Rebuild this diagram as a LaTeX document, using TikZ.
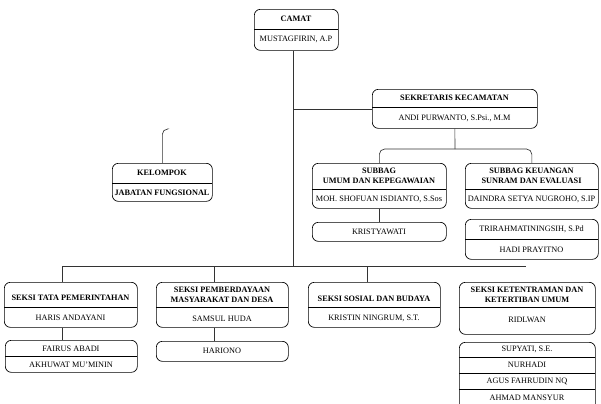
\documentclass[tikz,border=0pt]{standalone}
\usepackage{fontspec}
\setmainfont{Liberation Serif}
\usetikzlibrary{calc}

\tikzset{
  orgbox/.style={draw, rounded corners=4.5pt, line width=0.5pt, inner sep=0pt, anchor=north west},
  hd/.style={font=\fontsize{6.2}{7.5}\selectfont\bfseries, align=center, inner sep=0pt},
  nm/.style={font=\fontsize{6.2}{7.5}\selectfont, inner sep=0pt},
  link/.style={line width=0.5pt, black!80}
}

\begin{document}
\begin{tikzpicture}[x=0.75pt,y=0.75pt,yscale=-1,xscale=1]
\useasboundingbox (0,0) rectangle (601,404);
\clip (0,0) rectangle (601,404);

%Rounded Rect boxes
\node [orgbox, minimum width=63pt, minimum height=30.75pt] (camat) at (254,9) {};
\node [orgbox, minimum width=123.75pt, minimum height=29.25pt] (sekcam) at (372,89) {};
\node [orgbox, minimum width=75pt, minimum height=28.5pt] (kelompok) at (112,163) {};
\node [orgbox, minimum width=100.5pt, minimum height=33.75pt] (umum) at (312,163) {};
\node [orgbox, minimum width=100.5pt, minimum height=14.25pt] (kristy) at (312,222) {};
\node [orgbox, minimum width=99.75pt, minimum height=33.75pt] (keu) at (465,163) {};
\node [orgbox, minimum width=99.75pt, minimum height=30pt] (trihadi) at (465,219) {};
\node [orgbox, minimum width=99.75pt, minimum height=33.75pt] (tata) at (4,282) {};
\node [orgbox, minimum width=99pt, minimum height=24pt] (fairus) at (5,340) {};
\node [orgbox, minimum width=99pt, minimum height=33.75pt] (pemb) at (156,282) {};
\node [orgbox, minimum width=99pt, minimum height=15pt] (hariono) at (156,341) {};
\node [orgbox, minimum width=99pt, minimum height=33.75pt] (sosial) at (308,282) {};
\node [orgbox, minimum width=102pt, minimum height=39pt] (ketent) at (459,282) {};
\node [orgbox, minimum width=102pt, minimum height=60pt] (supyati) at (459,342) {};

%Dividers
\draw [line width=0.5pt] (254,29) -- (338,29) ;
\draw [line width=0.5pt] (372,107) -- (537,107) ;
\draw [line width=0.5pt] (112,183) -- (212,183) ;
\draw [line width=0.5pt] (312,189) -- (446,189) ;
\draw [line width=0.5pt] (465,189) -- (598,189) ;
\draw [line width=0.5pt] (465,239) -- (598,239) ;
\draw [line width=0.5pt] (4,307) -- (137,307) ;
\draw [line width=0.5pt] (5,356) -- (137,356) ;
\draw [line width=0.5pt] (156,307) -- (288,307) ;
\draw [line width=0.5pt] (308,307) -- (440,307) ;
\draw [line width=0.5pt] (459,307) -- (595,307) ;
\draw [line width=0.5pt] (459,357) -- (595,357) ;
\draw [line width=0.5pt] (459,373) -- (595,373) ;
\draw [line width=0.5pt] (459,389) -- (595,389) ;

%Straight Lines
\coordinate (bar) at (293,266);
\coordinate (barL) at (62,266);
\coordinate (barB) at (214,266);
\coordinate (barC) at (367,266);
\coordinate (barR) at (526,266);
\coordinate (sub) at (455,149);
\coordinate (kelhook) at (167,129);
\draw [link] (bar |- camat.south) -- (bar) ;
\draw [link] (bar |- sekcam.west) -- (sekcam.west) ;
\draw [link] (sekcam.south) -- (sub) ;
\draw [link, rounded corners=4pt] (umum.north) |- (sub) -| (keu.north) ;
\draw [link] (umum.south) -- (kristy.north) ;
\draw [link, rounded corners=4pt] (kelompok.north) -- (kelompok.north |- kelhook) -- (kelhook) ;
\draw [link] (barL) -- (barR) ;
\draw [link] (barL) -- (barL |- tata.north) ;
\draw [link] (barB) -- (barB |- pemb.north) ;
\draw [link] (barC) -- (barC |- sosial.north) ;
\draw [link] (barL |- tata.south) -- (barL |- fairus.north) ;
\draw [link] (barB |- pemb.south) -- (barB |- hariono.north) ;

% Text Node
\node [hd] (t1) at (296,19) {CAMAT};
\node [nm] (n1) at (296,39.5) {MUSTAGFIRIN, A.P};
% Text Node
\node [hd] (t2) at (454.5,98) {SEKRETARIS KECAMATAN};
\node [nm] (n2) at (454.5,118) {ANDI PURWANTO, S.Psi., M.M};
% Text Node
\node [hd] (t3) at (162,172.5) {KELOMPOK};
\node [hd] (n3) at (162,192.5) {JABATAN FUNGSIONAL};
% Text Node
\node [hd] (t4) at (379,175.5) {SUBBAG\\UMUM DAN KEPEGAWAIAN};
\node [nm] (n4) at (379,199) {MOH. SHOFUAN ISDIANTO, S.Sos};
\node [nm] (n5) at (379,232) {KRISTYAWATI};
% Text Node
\node [hd] (t6) at (531.5,176) {SUBBAG KEUANGAN\\SUNRAM DAN EVALUASI};
\node [nm] (n6) at (531.5,199) {DAINDRA SETYA NUGROHO, S.IP};
\node [nm] (n7) at (531.5,229) {TRIRAHMATININGSIH, S.Pd};
\node [nm] (n8) at (531.5,249.5) {HADI PRAYITNO};
% Text Node
\node [hd] (t9) at (70.5,298) {SEKSI TATA PEMERINTAHAN};
\node [nm] (n9) at (70.5,318) {HARIS ANDAYANI};
\node [nm] (n10) at (71,348.5) {FAIRUS ABADI};
\node [nm] (n11) at (71,364.5) {AKHUWAT MU'MININ};
% Text Node
\node [hd] (t12) at (222,295) {SEKSI PEMBERDAYAAN\\MASYARAKAT DAN DESA};
\node [nm] (n12) at (222,318.5) {SAMSUL HUDA};
\node [nm] (n13) at (222,351) {HARIONO};
% Text Node
\node [hd] (t14) at (374,299) {SEKSI SOSIAL DAN BUDAYA};
\node [nm] (n14) at (374,318.5) {KRISTIN NINGRUM, S.T.};
% Text Node
\node [hd] (t15) at (527,295) {SEKSI KETENTRAMAN DAN\\KETERTIBAN UMUM};
\node [nm] (n15) at (527,320) {RIDLWAN};
\node [nm] (n16) at (527,349.5) {SUPYATI, S.E.};
\node [nm] (n17) at (527,365) {NURHADI};
\node [nm] (n18) at (527,381) {AGUS FAHRUDIN NQ};
\node [nm] (n19) at (527,397.5) {AHMAD MANSYUR};

\end{tikzpicture}
\end{document}
